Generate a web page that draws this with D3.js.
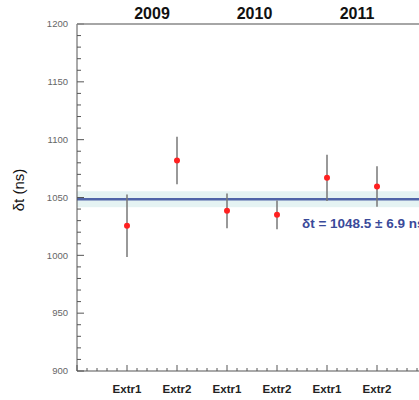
<!DOCTYPE html>
<html>
<head>
<meta charset="utf-8">
<script src="https://cdn.jsdelivr.net/npm/d3@7"></script>
<style>
  html, body { margin: 0; padding: 0; background: #fff; }
  svg { display: block; font-family: "Liberation Sans", Arial, sans-serif; }
</style>
</head>
<body>
<script>
// measurements, one per extraction
const positions = [1, 2, 3, 4, 5, 6];
const labels = ["Extr1", "Extr2", "Extr1", "Extr2", "Extr1", "Extr2"];
const values = [1025.5, 1082, 1038.5, 1035, 1067, 1059.5];
const errors = [27, 20.5, 15, 12.5, 20, 17.5];
const years = ["2009", "2010", "2011"];
const yearPos = [1.5, 3.55, 5.6];
const fitValue = 1048.5;
const fitError = 6.9;

const width = 419, height = 400;
const plotLeft = 77, plotTop = 24, plotBottom = 371;

const x = d3.scaleLinear().domain([0, 7]).range([plotLeft, plotLeft + 350]);
const y = d3.scaleLinear().domain([900, 1200]).range([plotBottom, plotTop]);

const svg = d3.select("body").append("svg")
    .attr("width", width)
    .attr("height", height);

// fit band and line
svg.append("rect")
    .attr("x", plotLeft)
    .attr("y", y(fitValue + fitError))
    .attr("width", width - plotLeft)
    .attr("height", y(fitValue - fitError) - y(fitValue + fitError))
    .attr("fill", "#e5f3f3");

svg.append("line")
    .attr("x1", plotLeft).attr("x2", width)
    .attr("y1", y(fitValue)).attr("y2", y(fitValue))
    .attr("stroke", "#5064a8")
    .attr("stroke-width", 2.5);

// y axis
const yAxis = svg.append("g").attr("transform", `translate(${plotLeft},0)`);
yAxis.append("line")
    .attr("y1", plotTop).attr("y2", plotBottom)
    .attr("stroke", "#555");
yAxis.selectAll("line.tick")
    .data(d3.range(900, 1201, 10))
    .join("line")
    .attr("class", "tick")
    .attr("x1", 0)
    .attr("x2", d => d % 50 === 0 ? 7 : 4)
    .attr("y1", d => y(d)).attr("y2", d => y(d))
    .attr("stroke", "#555");
yAxis.selectAll("text")
    .data(y.ticks(6))
    .join("text")
    .attr("x", -9)
    .attr("y", d => y(d))
    .attr("dy", "0.35em")
    .attr("text-anchor", "end")
    .attr("font-size", 9.5)
    .attr("fill", "#666")
    .text(d => d);

svg.append("text")
    .attr("transform", `translate(24,190) rotate(-90)`)
    .attr("text-anchor", "middle")
    .attr("font-size", 15)
    .attr("fill", "#111")
    .text("δt (ns)");

// x axis
const xAxis = svg.append("g");
xAxis.append("line")
    .attr("x1", plotLeft).attr("x2", width)
    .attr("y1", plotBottom).attr("y2", plotBottom)
    .attr("stroke", "#555");
xAxis.selectAll("line.tick")
    .data(d3.range(0, 35).map(i => i / 5))
    .join("line")
    .attr("class", "tick")
    .attr("x1", d => x(d)).attr("x2", d => x(d))
    .attr("y1", plotBottom)
    .attr("y2", (d, i) => plotBottom - (i % 5 === 0 ? 6 : 3))
    .attr("stroke", "#555");
xAxis.selectAll("text")
    .data(positions)
    .join("text")
    .attr("x", d => x(d))
    .attr("y", 393)
    .attr("text-anchor", "middle")
    .attr("font-size", 11.5)
    .attr("font-weight", "bold")
    .attr("fill", "#222")
    .text((d, i) => labels[i]);

// top border and years
svg.append("line")
    .attr("x1", plotLeft).attr("x2", width)
    .attr("y1", plotTop).attr("y2", plotTop)
    .attr("stroke", "#888")
    .attr("stroke-width", 1.5);
svg.selectAll("text.year")
    .data(years)
    .join("text")
    .attr("class", "year")
    .attr("x", (d, i) => x(yearPos[i]))
    .attr("y", 19)
    .attr("text-anchor", "middle")
    .attr("font-size", 16)
    .attr("font-weight", "bold")
    .attr("fill", "#111")
    .text(d => d);

// error bars and points
svg.append("g")
    .selectAll("line")
    .data(positions)
    .join("line")
    .attr("x1", d => x(d)).attr("x2", d => x(d))
    .attr("y1", (d, i) => y(values[i] + errors[i]))
    .attr("y2", (d, i) => y(values[i] - errors[i]))
    .attr("stroke", "#777")
    .attr("stroke-width", 1.5);

svg.append("g")
    .selectAll("circle")
    .data(positions)
    .join("circle")
    .attr("cx", d => x(d))
    .attr("cy", (d, i) => y(values[i]))
    .attr("r", 3)
    .attr("fill", "#ff2020");

svg.append("text")
    .attr("x", 302)
    .attr("y", 228)
    .attr("font-size", 13.5)
    .attr("font-weight", "bold")
    .attr("fill", "#3a4a9a")
    .text(`δt = ${fitValue} ± ${fitError} ns`);
</script>
</body>
</html>
